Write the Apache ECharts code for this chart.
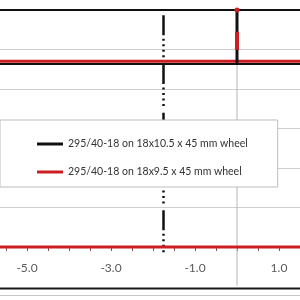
<!DOCTYPE html>
<html><head><meta charset="utf-8">
<script src="https://cdn.jsdelivr.net/npm/echarts@6/dist/echarts.min.js"></script>
<style>html,body{margin:0;padding:0;background:#fff}#c{width:300px;height:300px}</style>
</head><body><div id="c"></div>
<script>
const nameA = '295/40-18 on 18x10.5 x 45 mm wheel';
const nameB = '295/40-18 on 18x9.5 x 45 mm wheel';
// x range and ticks
const xMin = -7, xMax = 2, xStep = 0.5;
const yMin = 0, yMax = 60, yStep = 10;
// black series segments
const blackTop = [[-7, 60], [2, 60]];
const blackVert = [[0, 60], [0, 46.3]];
const blackMid = [[-7, 46.3], [2, 46.3]];
const blackDash = [[-1.75, 58.7], [-1.75, -2.8]];
// red series segments
const redMid = [[-7, 47], [2, 47]];
const redVert = [[0, 54.5], [0, 49.9]];
const redDot = [[0, 60]];
const redBottom = [[-7, 0], [2, 0]];
// gray vertical reference at x = 0
const grayVert = [[0, -9.8], [0, 60]];

const BLACK = '#111111', RED = '#cc1d22';
const chart = echarts.init(document.getElementById('c'), null, {renderer: 'canvas'});
function seg(name, data, color, width, extra) {
  return Object.assign({
    name: name, type: 'line', data: data, symbol: 'none', clip: false,
    lineStyle: {color: color, width: width}, itemStyle: {color: color},
    silent: true, animation: false
  }, extra || {});
}
chart.setOption({
  animation: false,
  grid: {left: -57, right: -21, top: 10, bottom: 53, containLabel: false, outerBoundsMode: 'none'},
  xAxis: {
    type: 'value', min: xMin, max: xMax, interval: xStep,
    axisLine: {show: true, onZero: false, lineStyle: {color: '#999'}},
    axisTick: {show: true, length: 4, lineStyle: {color: '#8a4a4a'}},
    splitLine: {show: false},
    axisLabel: {
      margin: 15, color: '#595959', fontFamily: 'Lato', fontSize: 12,
      formatter: v => (Math.abs(v % 2) === 1 ? v.toFixed(1) : '')
    }
  },
  yAxis: {
    type: 'value', min: yMin, max: yMax, interval: yStep,
    axisLine: {show: false}, axisTick: {show: false}, axisLabel: {show: false},
    splitLine: {lineStyle: {color: '#cfcfcf', width: 1}}
  },
  legend: {
    orient: 'vertical', left: 0, top: 120, z: 10,
    data: [{name: nameA, icon: 'rect', itemStyle: {color: BLACK}},
           {name: nameB, icon: 'rect', itemStyle: {color: RED}}],
    itemWidth: 26, itemHeight: 3, itemGap: 14,
    backgroundColor: '#ffffff', borderColor: '#bdbdbd', borderWidth: 1,
    padding: [17, 30, 8, 37],
    textStyle: {color: '#333333', fontFamily: 'Lato', fontSize: 10.5, lineHeight: 14}
  },
  series: [
    seg('gray', grayVert, '#b5b5b5', 1, {z: 1}),
    seg(nameA, blackTop, BLACK, 2),
    seg(nameA, blackMid, BLACK, 2),
    seg(nameA, blackDash, BLACK, 2.5, {lineStyle: {color: BLACK, width: 2.5, type: [20, 3.5, 2, 3.5, 2, 3.5, 2, 3.5, 2, 6.75]}}),
    seg(nameB, redMid, RED, 3),
    seg(nameB, redBottom, RED, 3),
    seg(nameA, blackVert, BLACK, 3, {z: 3}),
    seg(nameB, redVert, RED, 4, {z: 4}),
    seg(nameB, redDot, RED, 0, {symbol: 'circle', symbolSize: 5, showSymbol: true, z: 5})
  ],
  graphic: [
    {type: 'rect', shape: {x: 0, y: 287.5, width: 300, height: 2}, style: {fill: '#1a1a1a'}, z: 20},
    {type: 'rect', shape: {x: 0, y: 295, width: 300, height: 1}, style: {fill: '#c8c8c8'}, z: 20}
  ]
});
</script></body></html>
